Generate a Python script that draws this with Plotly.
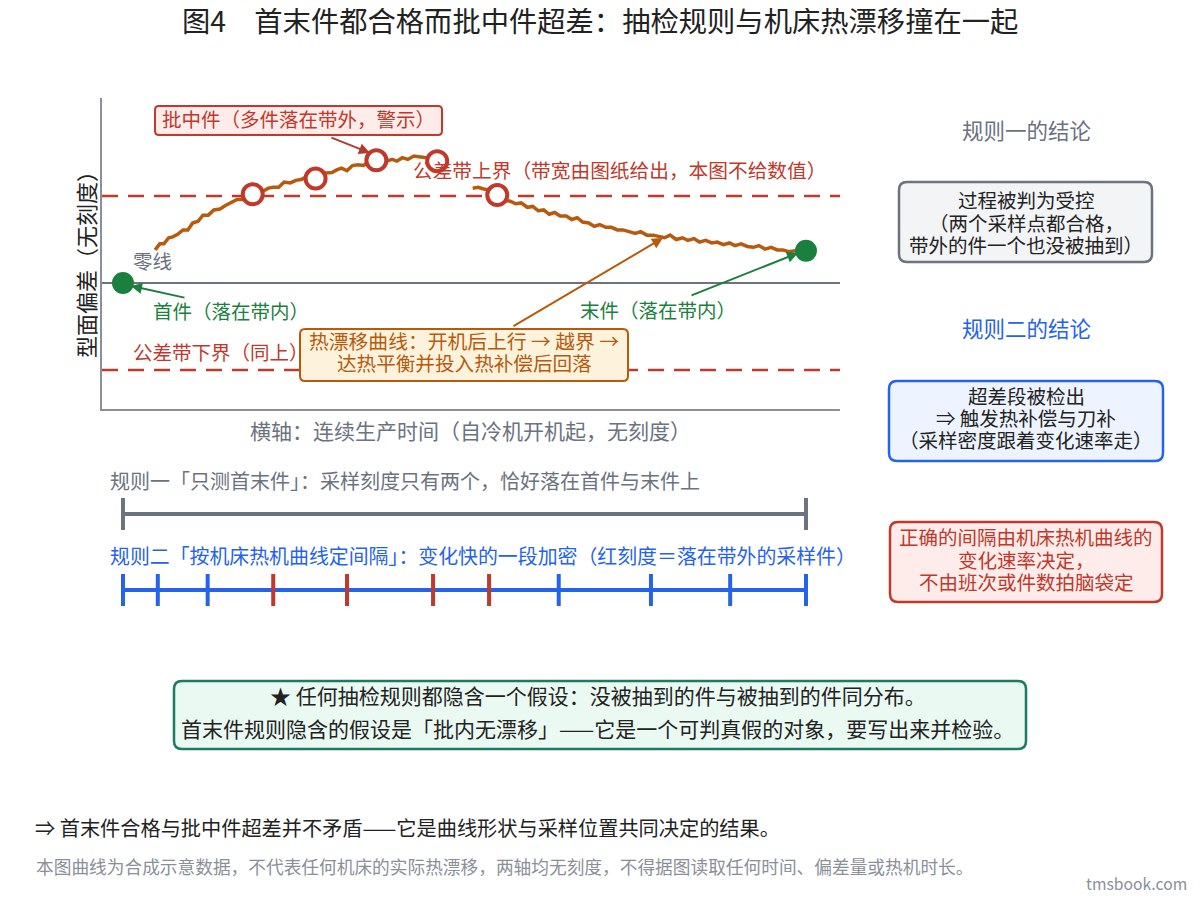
import plotly.graph_objects as go

FONT = "Noto Sans CJK SC"
RED = "#c0392b"
GREEN = "#1b7f3e"
BLUE = "#2563eb"
ORANGE = "#b85a0e"
GRAY = "#6b7280"
DARK = "#222222"

# ---------------- data ----------------
# synthetic thermal drift curve (time units 0..100, deviation in band units)
curve_t = [4.7, 5.4, 6.0, 6.7, 7.3, 8.0, 8.8, 9.5, 10.2, 11.0, 11.7, 12.5, 13.3, 14.2,
           15.0, 15.8, 16.7, 17.5, 18.3, 19.0, 19.8, 20.6, 21.3, 22.0, 22.8, 23.6, 24.5,
           25.3, 26.1, 26.9, 27.6, 28.3, 29.0, 29.8, 30.6, 31.3, 32.0, 32.8, 33.6, 34.4,
           35.2, 36.0, 37.0, 37.8, 38.6, 39.4, 40.1, 40.9, 41.7, 42.6, 43.5, 44.3, 45.2,
           46.0, 46.8, None,
           51.2, 52.0, 52.8, 53.6, 54.3, 55.0, 55.8, 56.7, 57.5, 58.3, 59.2, 60.0, 60.8,
           61.6, 62.4, 63.2, 64.0, 64.9, 65.7, 66.5, 67.3, 68.2, 69.0, 69.8, 70.7, 71.5,
           72.4, 73.2, 74.1, 75.0, 75.8, 76.7, 77.6, 78.5, 79.3, 80.1, 81.0, 81.9, 82.7,
           83.6, 84.4, 85.3, 86.2, 87.0, 87.9, 88.8, 89.6, 90.5, 91.4, 92.3, 93.1, 94.0,
           94.9, 95.8, 96.6, 97.5, 98.4, 99.3, 100.0]
curve_v = [0.38, 0.45, 0.45, 0.52, 0.53, 0.56, 0.61, 0.61, 0.69, 0.71, 0.78, 0.78, 0.84, 0.85,
           0.89, 0.92, 0.96, 0.96, 1.01, 1.02, 1.05, 1.06, 1.09, 1.10, 1.10, 1.16, 1.15,
           1.18, 1.19, 1.22, 1.21, 1.21, 1.26, 1.26, 1.27, 1.30, 1.32, 1.29, 1.35, 1.36,
           1.35, 1.39, 1.40, 1.43, 1.40, 1.42, 1.40, 1.44, 1.42, 1.46, 1.45, 1.44, 1.43,
           1.41, 1.38, None,
           1.09, 1.10, 1.08, 1.07, 1.03, 1.00, 0.95, 0.94, 0.91, 0.92, 0.87, 0.88, 0.83,
           0.84, 0.79, 0.81, 0.77, 0.77, 0.73, 0.75, 0.70, 0.69, 0.65, 0.67, 0.64, 0.64,
           0.61, 0.61, 0.59, 0.57, 0.59, 0.55, 0.55, 0.53, 0.52, 0.55, 0.50, 0.52, 0.49,
           0.51, 0.47, 0.49, 0.46, 0.47, 0.44, 0.46, 0.43, 0.45, 0.42, 0.41, 0.43, 0.39,
           0.41, 0.38, 0.38, 0.36, 0.37, 0.36, 0.38]

# mid-batch samples (out of band)
sample_t = [19.0, 28.2, 37.1, 46.0, 54.8]
sample_v = [1.02, 1.20, 1.41, 1.40, 1.01]

# first / last piece
end_t = [0.0, 100.0]
end_v = [0.0, 0.37]

band_upper = 1.0
band_lower = -1.0
zero_level = 0.0

# sampling rules
rule1_ticks = [0.0, 100.0]
rule2_ticks = [0.0, 5.1, 12.4, 22.0, 32.8, 45.4, 53.6, 63.8, 77.3, 88.9, 100.0]
rule2_out = [False, False, False, True, True, True, True, False, False, False, False]

# ---------------- layout helpers ----------------
PAGE_OFF = 8          # default page margin of the html body
W, H = 1200 - PAGE_OFF, 900 - PAGE_OFF
L, R, T, B = 102, 840, 98, 409  # plot area in screen pixels
TXT_DY = -2


def fx(px):
    return (px - L) / (R - L)


def fy(py):
    return (B - py) / (B - T)


shapes = []
annotations = []


def rrect(x0, y0, x1, y1, r, fill, line, lw=2.5, layer="above"):
    X0, X1 = fx(x0), fx(x1)
    YT, YB = fy(y0), fy(y1)
    rx, ry = r / (R - L), r / (B - T)
    p = (f"M {X0+rx},{YT} L {X1-rx},{YT} Q {X1},{YT} {X1},{YT-ry} "
         f"L {X1},{YB+ry} Q {X1},{YB} {X1-rx},{YB} L {X0+rx},{YB} "
         f"Q {X0},{YB} {X0},{YB+ry} L {X0},{YT-ry} Q {X0},{YT} {X0+rx},{YT} Z")
    shapes.append(dict(type="path", path=p, xref="paper", yref="paper",
                       fillcolor=fill, line=dict(color=line, width=lw), layer=layer))


def txt(s, px, py, size, color, anchor="center", angle=0):
    annotations.append(dict(text=s, x=fx(px), y=fy(py + TXT_DY), xref="paper", yref="paper",
                            xanchor=anchor, yanchor="middle", showarrow=False,
                            textangle=angle,
                            font=dict(family=FONT, size=size, color=color)))


def arrow(t, v, ax, ay, color, width=2):
    annotations.append(dict(x=t, y=v, xref="x", yref="y", ax=ax, ay=ay, text="",
                            showarrow=True, arrowhead=2, arrowsize=1.1,
                            arrowwidth=width, arrowcolor=color, standoff=0))


fig = go.Figure()

# reference lines in the main chart
for lvl, col, dash, w in [(zero_level, GRAY, "solid", 2),
                          (band_upper, RED, "16px,10px", 2.5),
                          (band_lower, RED, "16px,10px", 2.5)]:
    shapes.append(dict(type="line", xref="paper", yref="y", x0=0, x1=1, y0=lvl, y1=lvl,
                       line=dict(color=col, width=w, dash=dash), layer="below"))

# curve
fig.add_trace(go.Scatter(x=curve_t, y=curve_v, mode="lines",
                         line=dict(color=ORANGE, width=3.5), connectgaps=False,
                         hoverinfo="skip", showlegend=False))
# out-of-band samples
fig.add_trace(go.Scatter(x=sample_t, y=sample_v, mode="markers",
                         marker=dict(size=20, color="white", line=dict(color=RED, width=4)),
                         hoverinfo="skip", showlegend=False))
# first / last piece
fig.add_trace(go.Scatter(x=end_t, y=end_v, mode="markers",
                         marker=dict(size=22, color=GREEN),
                         hoverinfo="skip", showlegend=False))

# boxes in main chart
rrect(155, 106, 442, 135, 4, "#fdecea", RED, 2)
rrect(300, 329, 628, 381, 5, "#fdf3dc", ORANGE, 2)

# annotations in main chart
txt("批中件（多件落在带外，警示）", 298, 120, 19.5, RED)
txt("公差带上界（带宽由图纸给出，本图不给数值）", 411, 171, 19.7, RED, "left")
txt("零线", 131, 262, 19.5, GRAY, "left")
txt("首件（落在带内）", 151, 312, 19.5, GREEN, "left")
txt("末件（落在带内）", 578, 311, 19.5, GREEN, "left")
txt("公差带下界（同上）", 131, 353, 19.5, RED, "left")
txt("热漂移曲线：开机后上行 → 越界 →", 464, 342, 19.8, ORANGE)
txt("达热平衡并投入热补偿后回落", 464, 364, 19.6, ORANGE)

arrow(36.16, 1.494, -40, -16, "#b03a2e", 2)
arrow(1.17, -0.034, 55, 12, GREEN, 2)
arrow(98.83, 0.345, -108, 43, GREEN, 2)
arrow(79.06, 0.517, -151, 89, ORANGE, 2)

# axis titles
txt("型面偏差（无刻度）", 85, 261, 22, DARK, angle=-90)
txt("横轴：连续生产时间（自冷机开机起，无刻度）", 470, 432, 21, GRAY)

# title
txt("图4　首末件都合格而批中件超差：抽检规则与机床热漂移撞在一起", 600, 21, 28.3, DARK)

# right column
txt("规则一的结论", 1026, 131, 21.5, GRAY)
rrect(899, 182, 1152, 262, 8, "#f3f4f6", GRAY, 2.5)
txt("过程被判为受控", 1026, 201, 19.5, DARK)
txt("（两个采样点都合格，", 1026, 224, 19.5, DARK)
txt("带外的件一个也没被抽到）", 1026, 246, 19.5, DARK)

txt("规则二的结论", 1026, 329, 21.5, BLUE)
rrect(889, 381, 1163, 461, 8, "#eef4ff", BLUE, 2.5)
txt("超差段被检出", 1026, 397, 19.5, DARK)
txt("⇒ 触发热补偿与刀补", 1026, 419, 19.5, DARK)
txt("（采样密度跟着变化速率走）", 1026, 441, 19.5, DARK)

rrect(890, 522, 1162, 602, 8, "#fdecea", RED, 2.5)
txt("正确的间隔由机床热机曲线的", 1026, 538, 19.5, RED)
txt("变化速率决定，", 1026, 561, 19.5, RED)
txt("不由班次或件数拍脑袋定", 1026, 583, 19.5, RED)

# sampling rule bars
txt("规则一「只测首末件」：采样刻度只有两个，恰好落在首件与末件上", 108, 483, 20, GRAY, "left")
shapes.append(dict(type="line", xref="x", yref="paper", x0=rule1_ticks[0], x1=rule1_ticks[-1],
                   y0=fy(514), y1=fy(514), line=dict(color=GRAY, width=4)))
for t in rule1_ticks:
    shapes.append(dict(type="line", xref="x", yref="paper", x0=t, x1=t,
                       y0=fy(498), y1=fy(530), line=dict(color=GRAY, width=4)))

txt("规则二「按机床热机曲线定间隔」：变化快的一段加密（红刻度＝落在带外的采样件）",
    108, 557, 19.9, BLUE, "left")
shapes.append(dict(type="line", xref="x", yref="paper", x0=rule2_ticks[0], x1=rule2_ticks[-1],
                   y0=fy(590), y1=fy(590), line=dict(color=BLUE, width=4)))
for t, out in zip(rule2_ticks, rule2_out):
    shapes.append(dict(type="line", xref="x", yref="paper", x0=t, x1=t,
                       y0=fy(574), y1=fy(606), line=dict(color=RED if out else BLUE, width=4)))

# note box
rrect(174, 681, 1026, 749, 8, "#eafaf3", "#1d7a63", 2.5)
txt("★ 任何抽检规则都隐含一个假设：没被抽到的件与被抽到的件同分布。", 598, 697, 21, DARK)
txt("首末件规则隐含的假设是「批内无漂移」——它是一个可判真假的对象，要写出来并检验。",
    597, 730, 21, DARK)

# footer
txt("⇒ 首末件合格与批中件超差并不矛盾——它是曲线形状与采样位置共同决定的结果。",
    33, 829, 20.2, DARK, "left")
txt("本图曲线为合成示意数据，不代表任何机床的实际热漂移，两轴均无刻度，不得据图读取任何时间、偏差量或热机时长。",
    34, 868, 17.7, "#8a8f99", "left")
txt("tmsbook.com", 1189, 885, 15.7, "#8a8f99", "right")

fig.update_layout(
    width=W, height=H, autosize=False,
    margin=dict(l=L - PAGE_OFF, r=W - (R - PAGE_OFF), t=T - PAGE_OFF, b=H - (B - PAGE_OFF), pad=0),
    paper_bgcolor="white", plot_bgcolor="white",
    showlegend=False,
    xaxis=dict(range=[-3.07, 104.98], showgrid=False, zeroline=False, showticklabels=False,
               ticks="", showline=True, linecolor="#8a8f99", linewidth=2, fixedrange=True),
    yaxis=dict(range=[-1.448, 2.126], showgrid=False, zeroline=False, showticklabels=False,
               ticks="", showline=True, linecolor="#8a8f99", linewidth=2, fixedrange=True),
    shapes=shapes, annotations=annotations,
    font=dict(family=FONT),
)

fig.write_html("out.html", config={"displayModeBar": False})
